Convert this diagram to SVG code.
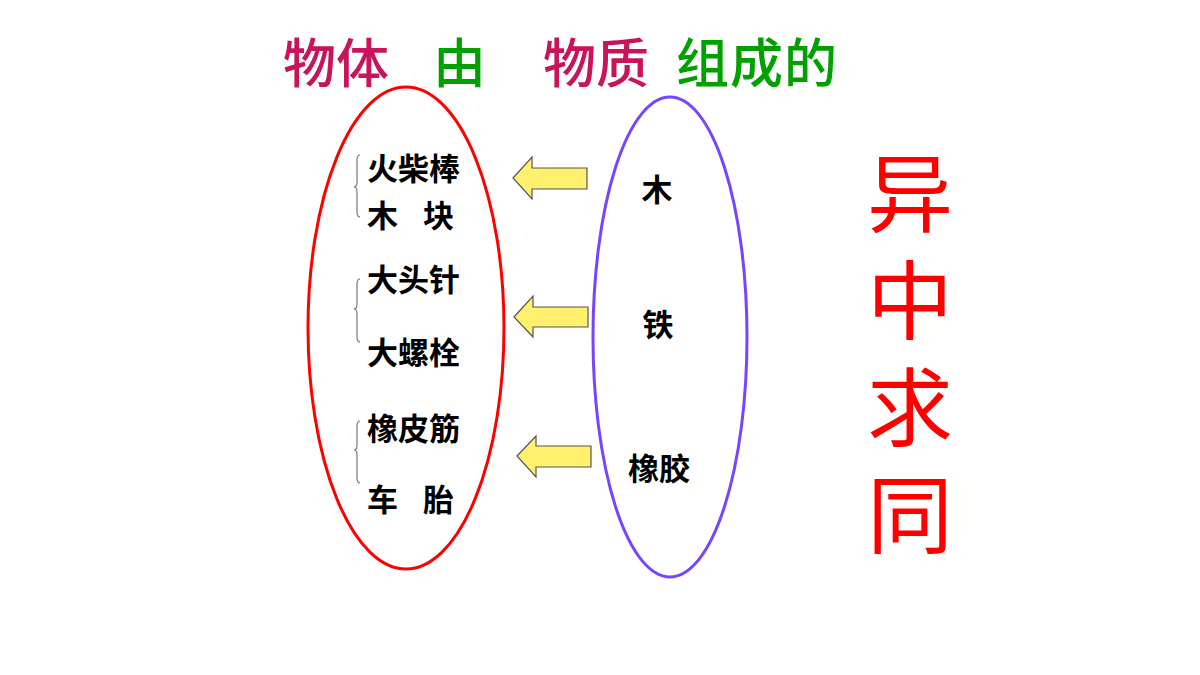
<svg xmlns="http://www.w3.org/2000/svg" width="1200" height="675" viewBox="0 0 1200 675">
<style>
.title{font-family:"Noto Sans CJK SC","Noto Sans CJK JP",sans-serif;font-size:53px;font-weight:500}
.mag{fill:#C8145A}
.grn{fill:#00A000}
.item{font-family:"Noto Sans CJK SC","Noto Sans CJK JP",sans-serif;font-size:31px;font-weight:700;fill:#000}
.big{font-family:"Noto Sans CJK SC","Noto Sans CJK JP",sans-serif;font-size:86px;font-weight:400;fill:#FF0000}
.arrow{fill:#FFF06E;stroke:#555;stroke-width:1.2}
.brace{fill:none;stroke:#777;stroke-width:1.2}
</style>
<rect width="1200" height="675" fill="#fff"/>
<g id="title">
<text class="title mag" x="283" y="83">物体</text>
<text class="title grn" x="433" y="83">由</text>
<text class="title mag" x="543" y="83">物质</text>
<text class="title grn" x="676" y="83" letter-spacing="1">组成的</text>
</g>
<g id="objects">
<ellipse cx="406" cy="328" rx="98" ry="241" fill="none" stroke="#FF0000" stroke-width="3"/>
<text class="item" x="367" y="180">火柴棒</text>
<text class="item" x="367" y="227">木</text>
<text class="item" x="423" y="227">块</text>
<text class="item" x="367" y="291">大头针</text>
<text class="item" x="367" y="364">大螺栓</text>
<text class="item" x="367" y="440">橡皮筋</text>
<text class="item" x="367" y="511">车</text>
<text class="item" x="423" y="511">胎</text>
<path class="brace" d="M360,155 Q357,155 357,160 L357,182 Q357,187 354,187 Q357,187 357,192 L357,212 Q357,217 360,217"/>
<path class="brace" d="M360,279 Q357,279 357,284 L357,304 Q357,309 354,309 Q357,309 357,314 L357,337 Q357,342 360,342"/>
<path class="brace" d="M360,421 Q357,421 357,426 L357,445 Q357,450 354,450 Q357,450 357,455 L357,478 Q357,483 360,483"/>
</g>
<g id="materials">
<ellipse cx="670" cy="337" rx="77" ry="240" fill="none" stroke="#7744FF" stroke-width="3"/>
<text class="item" x="657" y="201" text-anchor="middle">木</text>
<text class="item" x="658" y="336" text-anchor="middle">铁</text>
<text class="item" x="659" y="480" text-anchor="middle">橡胶</text>
</g>
<g id="connectors">
<polygon class="arrow" points="513,178 532,157 532,168 587,168 587,189 532,189 532,199"/>
<polygon class="arrow" points="514,317 533,296 533,307 588,307 588,327 533,327 533,337"/>
<polygon class="arrow" points="517,456 536,436 536,446 591,446 591,467 536,467 536,477"/>
</g>
<g id="slogan">
<text class="big" x="910" y="150" writing-mode="vertical-rl" letter-spacing="21">异中求同</text>
</g>
</svg>
